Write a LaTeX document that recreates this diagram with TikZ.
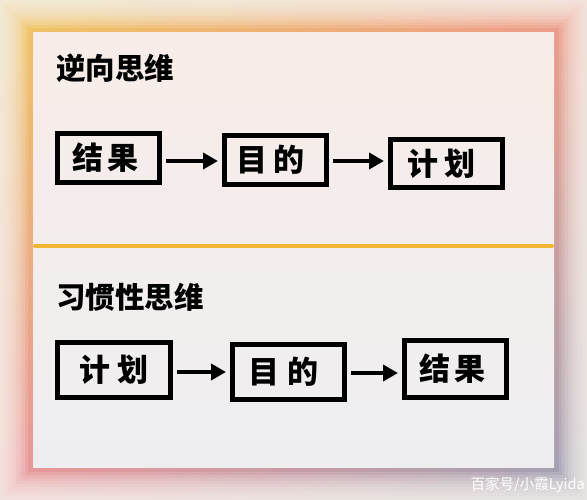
\documentclass[tikz,border=0pt]{standalone}
\usepackage{fontspec}
\newfontfamily\cjk{Noto Sans CJK SC}
\usetikzlibrary{arrows.meta,shadings}
\definecolor{cream}{HTML}{F7F3EE}
\definecolor{gyellow}{HTML}{F0C860}
\definecolor{gsalmon}{HTML}{F29A88}
\definecolor{gpink}{HTML}{EC949C}
\definecolor{ggrey}{HTML}{9CA2B6}
\definecolor{cardtop}{HTML}{F8EDE8}
\definecolor{cardbot}{HTML}{EEEEF1}
\definecolor{divider}{HTML}{F2B732}
\tikzset{
  stepbox/.style={draw=black, line width=5pt, fill=none, inner sep=0pt,
    font=\cjk\bfseries\fontsize{31}{31}\selectfont, text=black},
  title/.style={anchor=west, inner sep=0pt, font=\cjk\bfseries\fontsize{29.5}{29.5}\selectfont, text=black},
  flow/.style={line width=4.5pt, -{Triangle[length=15pt,width=16pt]}, shorten >=1pt}
}
\begin{document}
\begin{tikzpicture}[x=1pt,y=-1pt]
\useasboundingbox (0,0) rectangle (587,500);
% glow background
\shade[upper left=gyellow, upper right=gsalmon, lower left=gpink, lower right=ggrey] (0,0) rectangle (587,500);
\foreach \d in {5,8,...,35} {
  \fill[cream, opacity=0.17, even odd rule] (-1,-1) rectangle (588,501) (33-\d,33-\d) rectangle (554+\d,467+\d);
}
% card
\shade[top color=cardtop, bottom color=cardbot] (33,33) rectangle (554,467);
% divider
\draw[divider, line width=4pt, line cap=round] (35,246) -- (552,246);
% titles
\node[title] (t1) at (56,68) {逆向思维};
\node[title] (t2) at (56,297) {习惯性思维};
% top row
\node[stepbox, minimum width=102pt, minimum height=49pt] (a) at (108.5,158) {\hspace{-6pt}结\hspace{5pt}果};
\node[stepbox, minimum width=102pt, minimum height=49pt] (b) at (275.5,160) {\hspace{-10pt}目\hspace{6pt}的};
\node[stepbox, minimum width=112pt, minimum height=48pt] (c) at (446.5,163.5) {\hspace{-10pt}计\hspace{6pt}划};
% bottom row
\node[stepbox, minimum width=113pt, minimum height=55pt] (d) at (114,370) {计\hspace{8pt}划};
\node[stepbox, minimum width=112pt, minimum height=55pt] (e) at (288.5,372) {\hspace{-10pt}目\hspace{8pt}的};
\node[stepbox, minimum width=102pt, minimum height=57pt] (f) at (455.5,369) {\hspace{-6pt}结\hspace{5pt}果};
% arrows
\draw[flow] ([xshift=4pt]a.east |- 0,161) -- ([xshift=-3pt]b.west |- 0,161);
\draw[flow] ([xshift=4pt]b.east |- 0,161) -- ([xshift=-3pt]c.west |- 0,161);
\draw[flow] ([xshift=4pt]d.east |- 0,372) -- ([xshift=-3pt]e.west |- 0,372);
\draw[flow] ([xshift=4pt]e.east |- 0,373) -- ([xshift=-3pt]f.west |- 0,373);
% watermark
\node[anchor=east, inner sep=0pt, text=white, font=\cjk\fontsize{14.5}{14.5}\selectfont] (wm) at (585,485) {百家号/小霞Lyida};
\end{tikzpicture}
\end{document}
